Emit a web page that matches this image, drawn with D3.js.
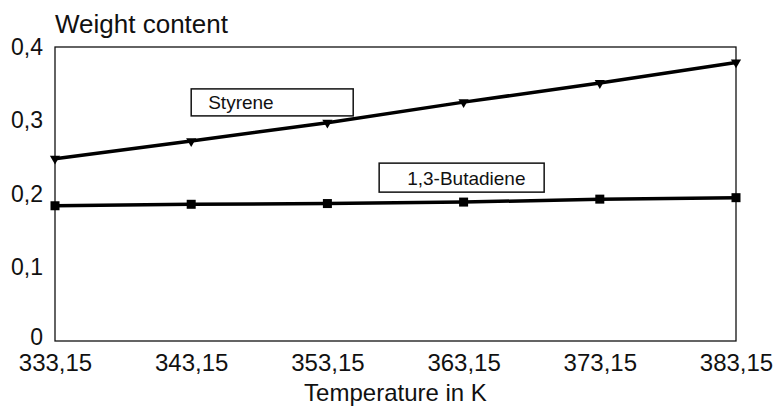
<!DOCTYPE html>
<html>
<head>
<meta charset="utf-8">
<script src="https://cdn.jsdelivr.net/npm/d3@7"></script>
<style>
  body { margin: 0; background: #fff; }
  svg { font-family: "Liberation Sans", Arial, sans-serif; }
</style>
</head>
<body>
<div id="chart"></div>
<script>
var temps = [333.15, 343.15, 353.15, 363.15, 373.15, 383.15];
var styrene = [0.248, 0.272, 0.297, 0.325, 0.351, 0.379];
var butadiene = [0.184, 0.186, 0.187, 0.189, 0.193, 0.195];
var yTicks = [0, 0.1, 0.2, 0.3, 0.4];
var seriesNames = ["Styrene", "1,3-Butadiene"];

var outerWidth = 777, outerHeight = 415;
var margin = {top: 47, right: 41, bottom: 74, left: 55},
    width = outerWidth - margin.left - margin.right,
    height = outerHeight - margin.top - margin.bottom;

var x = d3.scaleLinear().domain([333.15, 383.15]).range([0, width]);
var y = d3.scaleLinear().domain([0, 0.4]).range([height, 0]);

var comma = function(v) { return String(+v.toFixed(2)).replace(".", ","); };

var svg = d3.select("#chart").append("svg")
    .attr("width", outerWidth)
    .attr("height", outerHeight)
  .append("g")
    .attr("transform", "translate(" + margin.left + "," + margin.top + ")");

// frame
svg.append("rect")
    .attr("width", width)
    .attr("height", height)
    .attr("fill", "none")
    .attr("stroke", "#111")
    .attr("stroke-width", 1.3);

var xAxis = d3.axisBottom(x).tickValues(temps).tickSize(0).tickFormat(comma);
var gX = svg.append("g")
    .attr("transform", "translate(0," + height + ")")
    .call(xAxis);
gX.select(".domain").remove();
gX.selectAll("text")
    .attr("y", 30).attr("dy", 0)
    .style("font-size", "24px").attr("fill", "#111");

var yAxis = d3.axisLeft(y).tickValues(yTicks).tickSize(0).tickFormat(comma);
var gY = svg.append("g").call(yAxis);
gY.select(".domain").remove();
gY.selectAll("text")
    .attr("x", -12)
    .attr("y", function(d) { return d === 0 ? -4 : 0; })
    .style("font-size", "23px").attr("fill", "#111");

svg.append("text")
    .attr("x", 0).attr("y", -14)
    .style("font-size", "26px").attr("fill", "#111")
    .text("Weight content");

svg.append("text")
    .attr("x", width / 2).attr("y", height + 60)
    .attr("text-anchor", "middle")
    .style("font-size", "24px").attr("fill", "#111")
    .text("Temperature in K");

var line = d3.line()
    .x(function(d, i) { return x(temps[i]); })
    .y(function(d) { return y(d); });

[styrene, butadiene].forEach(function(s) {
    svg.append("path")
        .datum(s)
        .attr("d", line)
        .attr("fill", "none")
        .attr("stroke", "#000")
        .attr("stroke-width", 3.5);
});

svg.selectAll(".tri")
    .data(styrene)
    .enter().append("path")
    .attr("class", "tri")
    .attr("d", d3.symbol().type(d3.symbolTriangle).size(45))
    .attr("transform", function(d, i) { return "translate(" + x(temps[i]) + "," + y(d) + ") rotate(180)"; })
    .attr("fill", "#000");

svg.selectAll(".sq")
    .data(butadiene)
    .enter().append("rect")
    .attr("class", "sq")
    .attr("x", function(d, i) { return x(temps[i]) - 4.5; })
    .attr("y", function(d) { return y(d) - 4.5; })
    .attr("width", 9).attr("height", 9)
    .attr("fill", "#000");

// label boxes, anchored in data units
var labels = [
    {text: seriesNames[0], t: 343.15, v: 0.343, w: 162, h: 27, pad: 17},
    {text: seriesNames[1], t: 356.95, v: 0.242, w: 165, h: 29, pad: 28}
];
var lg = svg.selectAll(".lab").data(labels).enter().append("g")
    .attr("class", "lab")
    .attr("transform", function(d) { return "translate(" + x(d.t) + "," + y(d.v) + ")"; });
lg.append("rect")
    .attr("width", function(d) { return d.w; })
    .attr("height", function(d) { return d.h; })
    .attr("fill", "#fff")
    .attr("stroke", "#111")
    .attr("stroke-width", 1.5);
lg.append("text")
    .attr("x", function(d) { return d.pad; })
    .attr("y", function(d) { return d.h / 2 + 7; })
    .style("font-size", "19px").attr("fill", "#111")
    .text(function(d) { return d.text; });
</script>
</body>
</html>
